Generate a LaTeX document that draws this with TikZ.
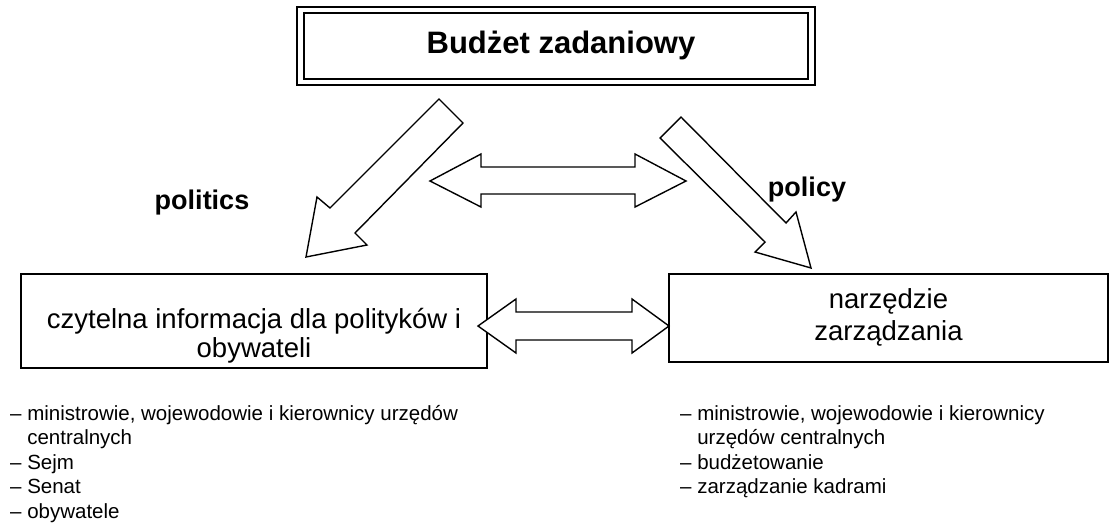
\documentclass[tikz,border=0pt]{standalone}
\usepackage{fontspec}
\setmainfont{Liberation Sans}
\begin{document}
\begin{tikzpicture}[x=1pt,y=-1pt,
  outline/.style={draw=black, line width=1.4pt, fill=white, line join=miter},
  box/.style={draw=black, line width=1.3pt, fill=white, inner sep=0pt},
  boxtext/.style={inner sep=0pt, align=center},
  listtext/.style={inner sep=0pt, align=left, font=\fontsize{20.5}{24.5}\selectfont},
  headlabel/.style={inner sep=0pt, font=\bfseries\fontsize{27}{32}\selectfont}
]
\useasboundingbox (0,0) rectangle (1111,525);

% top box with thin/thick double border
\node[draw=black, line width=1.1pt, minimum width=518pt, minimum height=78pt, inner sep=0pt] (top) at (556,46) {};
\node[draw=black, line width=2.2pt, minimum width=504pt, minimum height=66pt, inner sep=0pt] (topin) at (556,46) {};
\node[anchor=base, inner sep=0pt, font=\bfseries\fontsize{31}{36}\selectfont] (title) at (561,53) {Budżet zadaniowy};

% left and right boxes
\node[box, minimum width=466pt, minimum height=94pt] (left) at (254,321) {};
\node[boxtext, anchor=base, font=\fontsize{27.5}{29}\selectfont] (lefttext) at (254,357) {czytelna informacja dla polityków i\\obywateli};
\node[box, minimum width=439pt, minimum height=88pt] (right) at (888.5,318) {};
\node[boxtext, anchor=base, font=\fontsize{27.5}{32}\selectfont] (righttext) at (888.5,340) {narzędzie\\zarządzania};

% diagonal block arrows
\draw[outline] (439,99) -- (463,123) -- (355,233) -- (367,245) -- (306,257) -- (317,197) -- (330,208) -- cycle;
\draw[outline] (681,117) -- (786,223) -- (796,212) -- (811,268) -- (755,252) -- (765,242) -- (660,138) -- cycle;

% upper double block arrow
\draw[outline] (430,181) -- (481,154) -- (481,167) -- (635,167) -- (635,154) -- (686,181)
  -- (635,207) -- (635,194) -- (481,194) -- (481,207) -- cycle;

% lower double block arrow
\draw[outline] (478,326) -- (516,299) -- (516,312) -- (632,312) -- (632,299) -- (669,326)
  -- (632,353) -- (632,340) -- (516,340) -- (516,353) -- cycle;

% labels
\node[headlabel, anchor=base] (politics) at (202,209) {politics};
\node[headlabel, anchor=base] (policy) at (807,196) {policy};

% lists
\node[listtext, anchor=base west] (llist) at (10,518) {– ministrowie, wojewodowie i kierownicy urzędów\\\phantom{– }centralnych\\– Sejm\\– Senat\\– obywatele};
\node[listtext, anchor=base west] (rlist) at (680,493.5) {– ministrowie, wojewodowie i kierownicy\\\phantom{– }urzędów centralnych\\– budżetowanie\\– zarządzanie kadrami};
\end{tikzpicture}
\end{document}
